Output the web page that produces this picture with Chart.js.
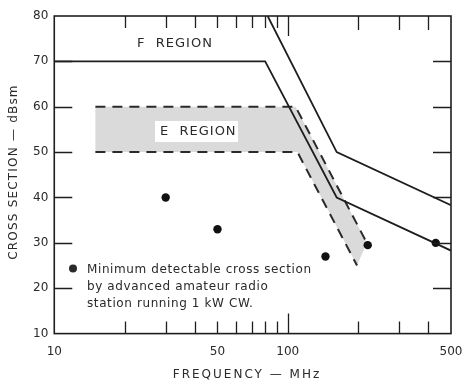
<!DOCTYPE html>
<html>
<head>
<meta charset="utf-8">
<script src="https://cdn.jsdelivr.net/npm/chart.js@4"></script>
<style>
  html, body { margin: 0; padding: 0; background: #fff; }
  #wrap { width: 463px; height: 380px; }
</style>
</head>
<body>
<div id="wrap"><canvas id="chart-area" width="463" height="380"></canvas></div>
<script>
// F region boundaries (MHz, dBsm)
var fLowFreq = [10, 80, 162, 500];
var fLowCs = [70, 70, 40, 28.3];
var fHighFreq = [82, 162, 500];
var fHighCs = [80, 50, 38.3];

// E region band, dashed edges
var eTopFreq = [15, 108, 218];
var eTopCs = [60, 60, 30];
var eBotFreq = [15, 110, 198];
var eBotCs = [50, 50, 25];

// minimum detectable cross section points
var dotFreq = [30, 50, 145, 220, 430];
var dotCs = [40, 33, 27, 29.5, 30];

// axes
var xLabels = [10, 50, 100, 500];
var xTickMarks = [20, 30, 40, 50, 60, 70, 80, 90, 100, 200, 300, 400];
var yTickMarks = [20, 30, 40, 50, 60, 70];

var legendLines = [
    "Minimum detectable cross section",
    "by advanced amateur radio",
    "station running 1 kW CW."
];

function pts(xs, ys) {
    var out = [];
    for (var i = 0; i < xs.length; i++) {
        out.push({x: xs[i], y: ys[i]});
    }
    return out;
}

var bandPts = pts(eTopFreq, eTopCs).concat(pts(eBotFreq, eBotCs).reverse());

var ink = '#1e1e1e';

var decorations = {
    id: 'decorations',
    afterDatasetsDraw: function (chart) {
        var ctx = chart.ctx;
        var a = chart.chartArea;
        var xs = chart.scales.x, ys = chart.scales.y;
        ctx.save();

        // white box behind E REGION label
        ctx.fillStyle = '#fff';
        ctx.fillRect(155, 121, 83, 21);

        // frame
        ctx.strokeStyle = ink;
        ctx.lineWidth = 1.6;
        ctx.strokeRect(a.left, a.top, a.right - a.left, a.bottom - a.top);

        // inward tick marks
        ctx.lineWidth = 1.3;
        ctx.beginPath();
        xTickMarks.forEach(function (v) {
            var px = Math.round(xs.getPixelForValue(v)) + 0.5;
            var len = v === 100 ? 20 : 12;
            ctx.moveTo(px, a.bottom);
            ctx.lineTo(px, a.bottom - len);
            ctx.moveTo(px, a.top);
            ctx.lineTo(px, a.top + len + (v >= 200 ? 2 : 0));
        });
        yTickMarks.forEach(function (v) {
            var py = Math.round(ys.getPixelForValue(v)) + 0.5;
            ctx.moveTo(a.left, py);
            ctx.lineTo(a.left + 18, py);
            ctx.moveTo(a.right, py);
            ctx.lineTo(a.right - 18, py);
        });
        ctx.stroke();

        // region labels
        ctx.fillStyle = '#2a2a2a';
        ctx.letterSpacing = '1px';
        ctx.font = '13px "DejaVu Sans"';
        ctx.textBaseline = 'middle';
        ctx.textAlign = 'left';
        ctx.fillText('F  REGION', 137, 44);
        ctx.fillText('E  REGION', 160, 132);

        // legend note
        ctx.beginPath();
        ctx.arc(73, 268.5, 4, 0, Math.PI * 2);
        ctx.fill();
        ctx.font = '12px "DejaVu Sans"';
        ctx.letterSpacing = '0.6px';
        legendLines.forEach(function (t, i) {
            ctx.fillText(t, 87, 269.5 + i * 17.3);
        });

        // axis titles
        ctx.font = '12px "DejaVu Sans"';
        ctx.letterSpacing = '2px';
        ctx.textAlign = 'center';
        ctx.fillText('FREQUENCY \u2014 MHz', 247, 375);
        ctx.letterSpacing = '1.2px';
        ctx.translate(14, 172);
        ctx.rotate(-Math.PI / 2);
        ctx.fillText('CROSS SECTION \u2014 dBsm', 0, 0);
        ctx.restore();
    }
};

var config = {
    type: 'scatter',
    data: {
        datasets: [
            {
                data: pts(dotFreq, dotCs),
                backgroundColor: '#111',
                borderWidth: 0,
                pointRadius: 4.2
            },
            {
                data: pts(fLowFreq, fLowCs),
                showLine: true,
                borderColor: ink,
                borderWidth: 1.8,
                pointRadius: 0
            },
            {
                data: pts(fHighFreq, fHighCs),
                showLine: true,
                borderColor: ink,
                borderWidth: 1.8,
                pointRadius: 0
            },
            {
                data: pts(eTopFreq, eTopCs),
                showLine: true,
                borderColor: '#2a2a2a',
                borderWidth: 2,
                borderDash: [10, 7],
                pointRadius: 0
            },
            {
                data: pts(eBotFreq, eBotCs),
                showLine: true,
                borderColor: '#2a2a2a',
                borderWidth: 2,
                borderDash: [10, 7],
                pointRadius: 0
            },
            {
                data: bandPts,
                showLine: true,
                borderWidth: 0,
                borderColor: 'rgba(0,0,0,0)',
                backgroundColor: '#dadada',
                fill: 'shape',
                pointRadius: 0
            }
        ]
    },
    options: {
        responsive: false,
        animation: false,
        layout: {padding: {left: 27, right: 0, top: 16, bottom: 10}},
        plugins: {
            legend: {display: false},
            tooltip: {enabled: false}
        },
        scales: {
            x: {
                type: 'logarithmic',
                min: 10,
                max: 500,
                grid: {display: false, drawTicks: false},
                border: {display: false},
                afterBuildTicks: function (scale) {
                    scale.ticks = xLabels.map(function (v) { return {value: v}; });
                },
                afterFit: function (scale) {
                    scale.paddingRight = 12;
                    scale.paddingLeft = 8;
                },
                ticks: {
                    autoSkip: false,
                    maxRotation: 0,
                    padding: 11,
                    color: '#2a2a2a',
                    font: {family: 'DejaVu Sans', size: 12},
                    callback: function (v) { return String(v); }
                }
            },
            y: {
                min: 10,
                max: 80,
                grid: {display: false, drawTicks: false},
                border: {display: false},
                ticks: {
                    stepSize: 10,
                    padding: 6,
                    color: '#2a2a2a',
                    font: {family: 'DejaVu Sans', size: 12}
                }
            }
        }
    },
    plugins: [decorations]
};

var ctx = document.getElementById("chart-area").getContext("2d");
window.myChart = new Chart(ctx, config);
</script>
</body>
</html>
